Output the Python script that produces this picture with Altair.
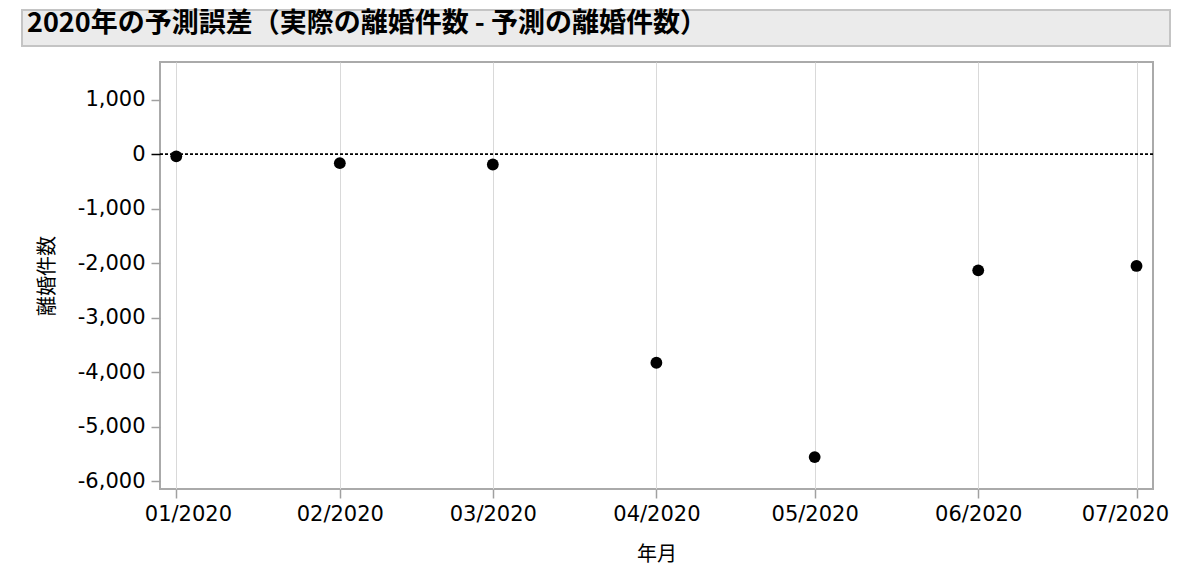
import altair as alt
import pandas as pd

title_text = "2020年の予測誤差（実際の離婚件数 - 予測の離婚件数）"
months = ["2020-01-01", "2020-02-01", "2020-03-01", "2020-04-01",
          "2020-05-01", "2020-06-01", "2020-07-01"]
errors = [-40, -165, -190, -3825, -5555, -2130, -2050]
y_ticks = [1000, 0, -1000, -2000, -3000, -4000, -5000, -6000]
x_title = "年月"
y_title = "離婚件数"

df = pd.DataFrame({"month": months, "err": errors})
zero_df = pd.DataFrame({"err": [0]})
title_df = pd.DataFrame({"t": [title_text]})

x_enc = alt.X(
    "month:T",
    title=x_title,
    scale=alt.Scale(
        type="utc",
        domain=[alt.DateTime(year=2019, month=12, date=28, hours=22, utc=True),
                alt.DateTime(year=2020, month=7, date=4, hours=3, utc=True)],
    ),
    axis=alt.Axis(
        values=[alt.DateTime(year=2020, month=m, date=1, utc=True) for m in range(1, 8)],
        labelExpr="utcFormat(datum.value, '%m/%Y')",
        labelFlush=20,
        labelFlushOffset=32,
        grid=True,
        gridColor="#d9d9d9",
        gridWidth=1,
        domain=False,
        tickColor="#a0a0a0",
        tickSize=9,
        tickWidth=1.5,
        labelFont="DejaVu Sans",
        labelFontSize=21,
        labelColor="black",
        labelPadding=5,
        titleFont="Noto Sans CJK JP",
        titleFontSize=20,
        titleFontWeight="normal",
        titleColor="black",
        titlePadding=20,
    ),
)

y_enc = alt.Y(
    "err:Q",
    title=y_title,
    scale=alt.Scale(domain=[-6140, 1690], nice=False, zero=False),
    axis=alt.Axis(
        values=y_ticks,
        labelExpr="replace(format(datum.value, ','), '\u2212', '-')",
        grid=False,
        domain=False,
        tickColor=alt.condition("datum.value == 0", alt.value("black"), alt.value("#a0a0a0")),
        tickSize=9,
        tickWidth=1.5,
        labelFont="DejaVu Sans",
        labelFontSize=21,
        labelColor="black",
        labelPadding=6,
        titleFont="Noto Sans CJK JP",
        titleFontSize=20,
        titleFontWeight="normal",
        titleColor="black",
        titlePadding=20,
    ),
)

points = alt.Chart(df).mark_circle(size=140, color="black", opacity=1).encode(
    x=x_enc, y=y_enc
)

zero_rule = alt.Chart(zero_df).mark_rule(
    color="black", strokeDash=[3, 2], strokeWidth=1.8
).encode(y=y_enc)

title_box = alt.Chart(title_df).mark_rect(
    fill="#ebebeb", stroke="#c4c4c4", strokeWidth=2
).encode(
    x=alt.value(-138), x2=alt.value(1010), y=alt.value(-52), y2=alt.value(-16)
)

title_label = alt.Chart(title_df).mark_text(
    align="left", baseline="middle", font="Noto Sans CJK JP",
    fontWeight="bold", fontSize=27, color="black"
).encode(
    text="t:N", x=alt.value(-133), y=alt.value(-38)
)

chart = alt.layer(title_box, title_label, zero_rule, points).properties(
    width=993,
    height=427,
    autosize=alt.AutoSizeParams(type="none"),
    padding={"left": 152, "top": 54, "right": 18, "bottom": 90},
).configure_view(
    stroke="#aaaaaa", strokeWidth=2
)

chart.save("out.html", embed_options={"renderer": "svg", "actions": False})
